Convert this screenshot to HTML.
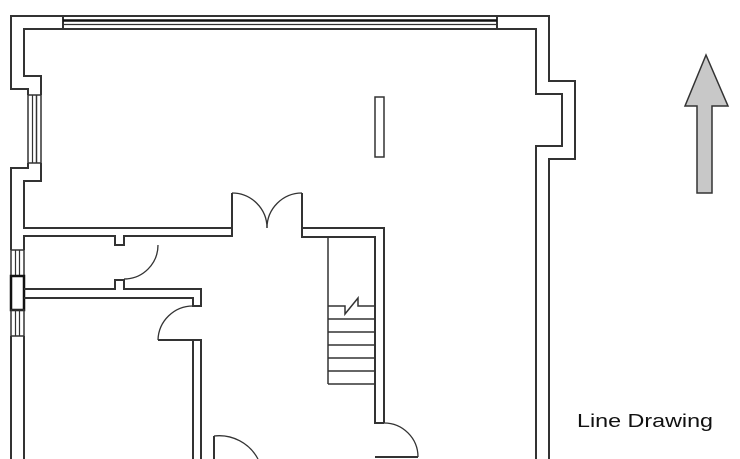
<!DOCTYPE html>
<html><head><meta charset="utf-8"><style>html,body{margin:0;padding:0;background:#fff}svg{display:block}</style></head>
<body>
<svg width="740" height="459" viewBox="0 0 740 459" xmlns="http://www.w3.org/2000/svg">
<g fill="none" stroke="#333" stroke-width="2">
<!-- outer wall left/top -->
<polyline points="63,16 11,16 11,89 28,89 28,95"/>
<polyline points="63,29 24,29 24,76 41,76 41,95"/>
<polyline points="28,163 28,168 11,168 11,250"/>
<polyline points="41,163 41,181 24,181 24,228 232,228 232,193"/>
<!-- top window -->
<line x1="63" y1="16" x2="497" y2="16"/>
<line x1="63" y1="29" x2="497" y2="29"/>
<line x1="63" y1="16" x2="63" y2="29"/>
<line x1="497" y1="16" x2="497" y2="29"/>
<line x1="63" y1="20.5" x2="497" y2="20.5" stroke-width="2.5" stroke="#111"/>
<line x1="63" y1="24.5" x2="497" y2="24.5" stroke-width="1.2"/>
<!-- left window upper -->
<rect x="28" y="95" width="13" height="68" stroke-width="1.5"/>
<line x1="32.5" y1="95" x2="32.5" y2="163" stroke-width="1.2"/>
<line x1="36.5" y1="95" x2="36.5" y2="163" stroke-width="1.5"/>
<!-- right wall -->
<polyline points="497,16 549,16 549,81 575,81 575,159 549,159 549,459"/>
<polyline points="497,29 536,29 536,94 562,94 562,146 536,146 536,459"/>
<!-- rect in big room -->
<rect x="375" y="97" width="9" height="60" stroke-width="1.5"/>
<!-- walls below -->
<polyline points="232,228 232,236 124,236 124,245 115,245 115,236 24,236 24,250"/>
<polyline points="302,193 302,228 384,228 384,423"/>
<polyline points="302,228 302,237 375,237 375,423 384,423"/>
<!-- left windows lower -->
<rect x="11" y="250" width="13" height="26" stroke-width="1.5"/>
<line x1="15.5" y1="250" x2="15.5" y2="276" stroke-width="1.2"/>
<line x1="19.5" y1="250" x2="19.5" y2="276" stroke-width="1.2"/>
<rect x="11" y="276" width="13" height="34" stroke-width="2.5" stroke="#111"/>
<rect x="11" y="310" width="13" height="26" stroke-width="1.5"/>
<line x1="15.5" y1="310" x2="15.5" y2="336" stroke-width="1.2"/>
<line x1="19.5" y1="310" x2="19.5" y2="336" stroke-width="1.2"/>
<line x1="11" y1="336" x2="11" y2="459"/>
<line x1="24" y1="336" x2="24" y2="459"/>
<polyline points="24,289 115,289 115,280 124,280 124,289 201,289 201,306 193,306 193,298 24,298"/>
<polyline points="193,459 193,340 201,340 201,459"/>
<!-- stairs -->
<g stroke-width="1.5">
<line x1="328" y1="237" x2="328" y2="384"/>
<polyline points="328,306 345,306 345,314 358,298 358,306 375,306"/>
<line x1="328" y1="319" x2="375" y2="319"/>
<line x1="328" y1="332" x2="375" y2="332"/>
<line x1="328" y1="345" x2="375" y2="345"/>
<line x1="328" y1="358" x2="375" y2="358"/>
<line x1="328" y1="371" x2="375" y2="371"/>
<line x1="328" y1="384" x2="375" y2="384"/>
</g>
<!-- doors -->
<g stroke-width="1.3">
<path d="M232,193 A35,35 0 0 1 267,228"/>
<path d="M302,193 A35,35 0 0 0 267,228"/>
<path d="M158,245 A34,34 0 0 1 124,279"/>
<path d="M193,306 A35,35 0 0 0 158,340"/>
<path d="M384,423 A34,34 0 0 1 418,457"/>
<path d="M214,436 A44,44 0 0 1 258,459"/>
</g>
<line x1="158" y1="340" x2="193" y2="340"/>
<line x1="375" y1="457" x2="418" y2="457"/>
<line x1="214" y1="436" x2="214" y2="459"/>
</g>
<!-- north arrow -->
<polygon points="706,55 728,106 712,106 712,193 697,193 697,106 685,106" fill="#c8c8c8" stroke="#333" stroke-width="1.5"/>
<text x="577" y="427" font-family="Liberation Sans, sans-serif" font-size="18" fill="#111" textLength="136" lengthAdjust="spacingAndGlyphs">Line Drawing</text>
</svg>
</body></html>
